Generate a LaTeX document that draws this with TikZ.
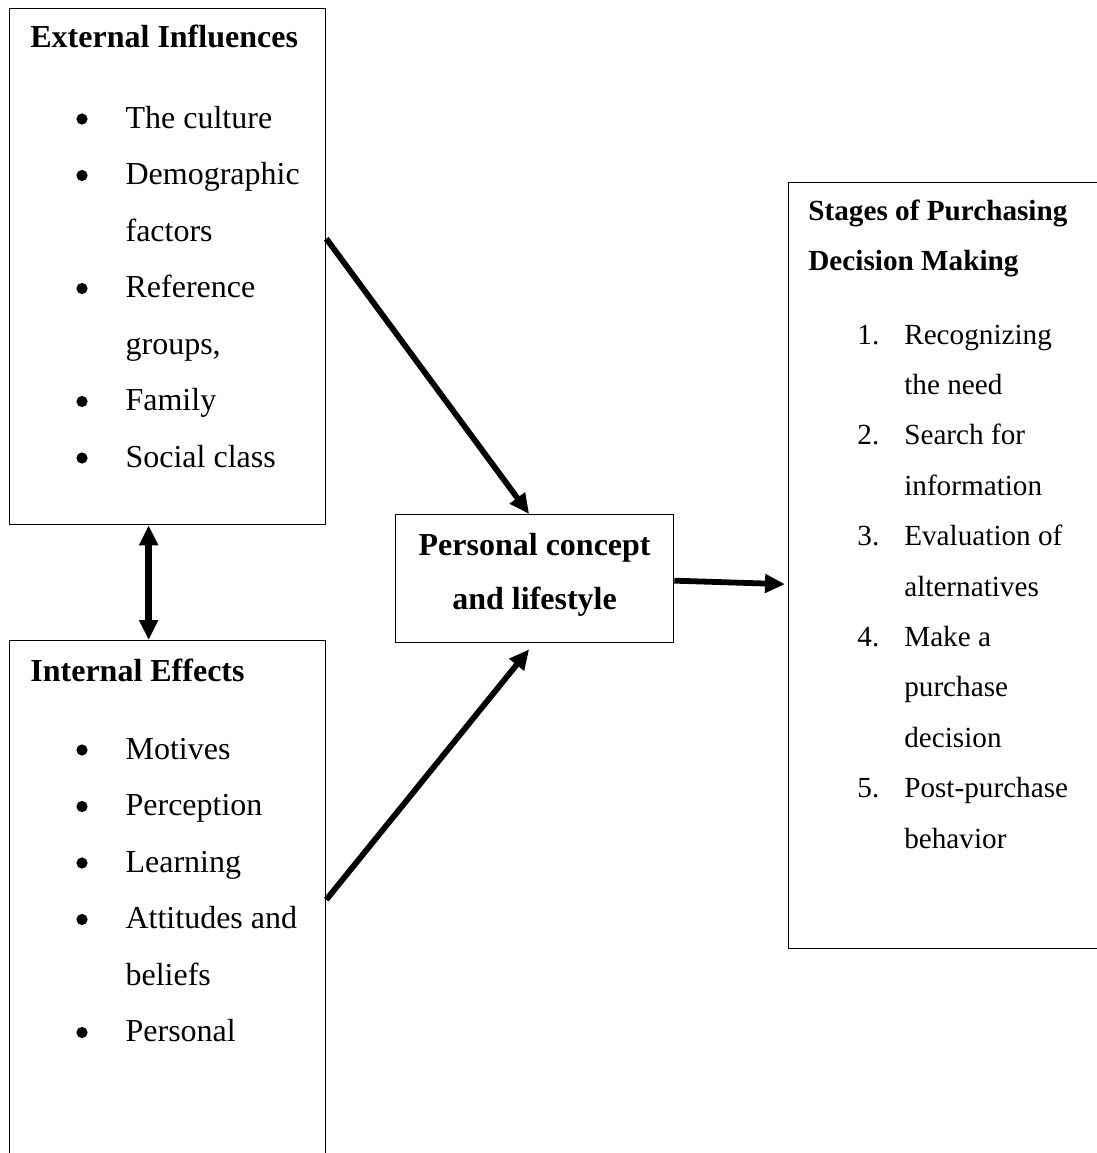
\documentclass[tikz,border=0pt]{standalone}
\usepackage{fontspec}
\setmainfont{Liberation Serif}
\usetikzlibrary{arrows.meta}
\tikzset{
  box/.style   ={draw,line width=0.65pt,anchor=north west,inner sep=0pt},
  ttl/.style   ={anchor=base west,inner sep=0pt,font=\bfseries\fontsize{16}{28.25}\selectfont},
  lst/.style   ={anchor=base west,inner sep=0pt,font=\fontsize{16}{28.25}\selectfont},
  flow/.style  ={-{Triangle[length=10pt,width=9pt]},line width=2.9pt},
  twoway/.style={flow,{Triangle[length=10pt,width=9pt]}-{Triangle[length=10pt,width=9pt]},line width=3.2pt},
}
\newcommand{\blt}{\tikz[baseline=-4.5pt]\fill (0,0) circle (2.8pt);}

\begin{document}
\begin{tikzpicture}[x=0.5pt,y=-0.5pt]
  \useasboundingbox (0,0) rectangle (1097,1153);
  \clip (0,0) rectangle (1097,1153);
  % the four boxes
  \node[box,minimum width=158pt,minimum height=258pt] (ext) at (9,8) {};
  \node[box,minimum width=158pt,minimum height=265pt] (int) at (9,640) {};
  \node[box,minimum width=139pt,minimum height=64pt,align=center,text depth=7.5pt,
        font=\bfseries\fontsize{16}{27}\selectfont] (pers) at (395,514) {Personal concept\\and lifestyle};
  \node[box,minimum width=161pt,minimum height=383pt] (stg) at (788,182) {};
  % external influences
  \node[ttl] (extT) at ([shift={(21,39)}]ext.north west) {External Influences};
  \node[lst] (extL) at ([shift={(67,120)}]ext.north west) {%
    \begin{tabular}[t]{@{}l@{\hspace{19pt}}l@{}}
      \blt & The culture\\
      \blt & Demographic\\
           & factors\\
      \blt & Reference\\
           & groups,\\
      \blt & Family\\
      \blt & Social class
    \end{tabular}};
  % internal effects
  \node[ttl] (intT) at ([shift={(21,41)}]int.north west) {Internal Effects};
  \node[lst] (intL) at ([shift={(67,119)}]int.north west) {%
    \begin{tabular}[t]{@{}l@{\hspace{19pt}}l@{}}
      \blt & Motives\\
      \blt & Perception\\
      \blt & Learning\\
      \blt & Attitudes and\\
           & beliefs\\
      \blt & Personal
    \end{tabular}};
  % stages
  \node[ttl,font=\bfseries\fontsize{14.6}{25.2}\selectfont] (stgT) at ([shift={(20,38)}]stg.north west) {%
    \begin{tabular}[t]{@{}l@{}}
      Stages of Purchasing\\
      Decision Making
    \end{tabular}};
  \node[lst,font=\fontsize{14.6}{25.2}\selectfont] (stgL) at ([shift={(69,162)}]stg.north west) {%
    \begin{tabular}[t]{@{}r@{\hspace{12.5pt}}l@{}}
      1. & Recognizing\\
         & the need\\
      2. & Search for\\
         & information\\
      3. & Evaluation of\\
         & alternatives\\
      4. & Make a\\
         & purchase\\
         & decision\\
      5. & Post-purchase\\
         & behavior
    \end{tabular}};
  % arrows
  \draw[flow] ([yshift=14pt]ext.east) -- ([xshift=-2.75pt]pers.north);
  \draw[flow] ([yshift=3pt]int.east) -- ([shift={(-2.75pt,-3pt)}]pers.south);
  \draw[flow] ([yshift=-1pt]pers.east) -- ([shift={(-1.5pt,-9.25pt)}]stg.west);
  \draw[twoway] ([xshift=-9.5pt]ext.south) -- ([xshift=-9.5pt]int.north);
\end{tikzpicture}
\end{document}
